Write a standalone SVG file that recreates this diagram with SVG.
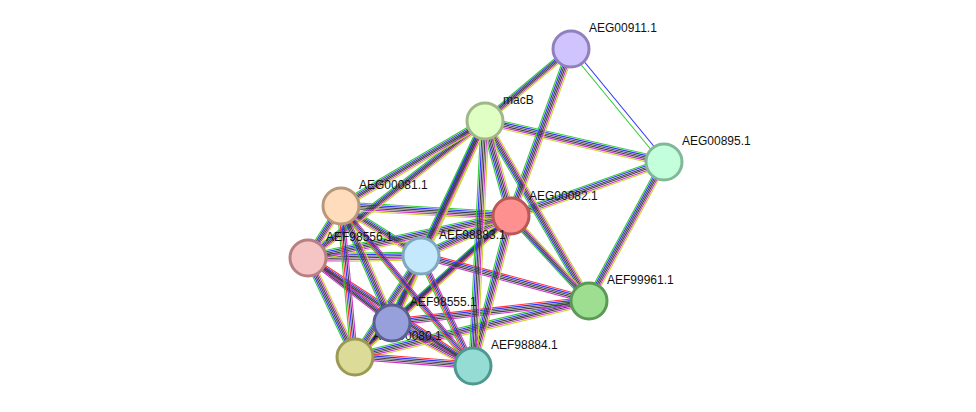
<svg xmlns="http://www.w3.org/2000/svg" xmlns:xlink="http://www.w3.org/1999/xlink" width="976" height="412" viewBox="0 0 976 412">
<style>
.g{stroke:#33cc33}.b{stroke:#3333ff}.k{stroke:#404040}.m{stroke:#cc33cc}.y{stroke:#c8d632}.r{stroke:#ff3333}
line{stroke-width:1.1;fill:none}
circle{stroke-width:3}
text{font-family:"Liberation Sans",Arial,sans-serif;font-size:12px;fill:#111}
</style>
<rect width="976" height="412" fill="#fff"/>
<defs>
<g id="HF">
<line x1="571" y1="49" x2="485" y2="121"/><line x1="485" y1="121" x2="664" y2="162"/><line x1="664" y1="162" x2="511" y2="216"/>
<line x1="511" y1="216" x2="341" y2="206"/><line x1="511" y1="216" x2="308" y2="258"/><line x1="511" y1="216" x2="421" y2="256"/>
<line x1="341" y1="206" x2="421" y2="256"/><line x1="308" y1="258" x2="421" y2="256"/><line x1="589" y1="301" x2="355" y2="357"/>
<line x1="485" y1="121" x2="341" y2="206"/><line x1="485" y1="121" x2="308" y2="258"/><line x1="511" y1="216" x2="392" y2="323"/>
<line x1="511" y1="216" x2="355" y2="357"/><line x1="392" y1="323" x2="473" y2="366"/>
</g>
<g id="HR">
<line x1="421" y1="256" x2="589" y2="301"/><line x1="589" y1="301" x2="392" y2="323"/><line x1="355" y1="357" x2="473" y2="366"/>
<line x1="308" y1="258" x2="392" y2="323"/><line x1="308" y1="258" x2="473" y2="366"/>
</g>
<g id="VF">
<line x1="571" y1="49" x2="511" y2="216"/><line x1="485" y1="121" x2="511" y2="216"/><line x1="485" y1="121" x2="421" y2="256"/>
<line x1="485" y1="121" x2="392" y2="323"/><line x1="485" y1="121" x2="473" y2="366"/><line x1="485" y1="121" x2="589" y2="301"/>
<line x1="664" y1="162" x2="589" y2="301"/><line x1="511" y1="216" x2="473" y2="366"/><line x1="511" y1="216" x2="589" y2="301"/>
<line x1="341" y1="206" x2="308" y2="258"/><line x1="308" y1="258" x2="355" y2="357"/><line x1="421" y1="256" x2="355" y2="357"/>
<line x1="421" y1="256" x2="392" y2="323"/><line x1="392" y1="323" x2="355" y2="357"/><line x1="341" y1="206" x2="392" y2="323"/>
</g>
<g id="VR">
<line x1="341" y1="206" x2="355" y2="357"/><line x1="341" y1="206" x2="473" y2="366"/><line x1="421" y1="256" x2="473" y2="366"/>
</g>
</defs>
<g id="connectors">
<use xlink:href="#HF" class="g" transform="translate(0,-4)"/>
<use xlink:href="#HF" class="b" transform="translate(0,-2.4)"/>
<use xlink:href="#HF" class="k" transform="translate(0,-0.8)"/>
<use xlink:href="#HF" class="k" transform="translate(0,0.8)"/>
<use xlink:href="#HF" class="m" transform="translate(0,2.4)"/>
<use xlink:href="#HF" class="y" transform="translate(0,4)"/>
<use xlink:href="#HR" class="r" transform="translate(0,-4)"/>
<use xlink:href="#HR" class="b" transform="translate(0,-2.4)"/>
<use xlink:href="#HR" class="k" transform="translate(0,-0.8)"/>
<use xlink:href="#HR" class="k" transform="translate(0,0.8)"/>
<use xlink:href="#HR" class="m" transform="translate(0,2.4)"/>
<use xlink:href="#VF" class="g" transform="translate(-4,0)"/>
<use xlink:href="#VF" class="b" transform="translate(-2.4,0)"/>
<use xlink:href="#VF" class="k" transform="translate(-0.8,0)"/>
<use xlink:href="#VF" class="k" transform="translate(0.8,0)"/>
<use xlink:href="#VF" class="m" transform="translate(2.4,0)"/>
<use xlink:href="#VF" class="y" transform="translate(4,0)"/>
<use xlink:href="#VR" class="g" transform="translate(-4,0)"/>
<use xlink:href="#VR" class="r" transform="translate(-2.4,0)"/>
<use xlink:href="#VR" class="b" transform="translate(-0.8,0)"/>
<use xlink:href="#VR" class="k" transform="translate(0.8,0)"/>
<use xlink:href="#VR" class="m" transform="translate(2.4,0)"/>
<line class="g" x1="569" y1="50" x2="662" y2="163"/><line class="b" x1="573" y1="48" x2="666" y2="161"/>
</g>
<g id="n-AEG00080"><circle cx="355" cy="357" r="18" fill="#dcdb98" stroke="#9a9a55"/><text x="373" y="340">AEG00080.1</text></g>
<g id="n-AEG00911"><circle cx="571" cy="49" r="18" fill="#d0c4ff" stroke="#9080c0"/><text x="589" y="32">AEG00911.1</text></g>
<g id="n-macB"><circle cx="485" cy="121" r="18" fill="#e0ffc4" stroke="#a0b888"/><text x="503" y="104">macB</text></g>
<g id="n-AEG00895"><circle cx="664" cy="162" r="18" fill="#c4ffdc" stroke="#80b898"/><text x="682" y="145">AEG00895.1</text></g>
<g id="n-AEG00081"><circle cx="341" cy="206" r="18" fill="#ffdcbc" stroke="#b8987a"/><text x="359" y="189">AEG00081.1</text></g>
<g id="n-AEG00082"><circle cx="511" cy="216" r="18" fill="#ff9090" stroke="#b85858"/><text x="529" y="200">AEG00082.1</text></g>
<g id="n-AEF98556"><circle cx="308" cy="258" r="18" fill="#f5c4c4" stroke="#b88080"/><text x="326" y="241">AEF98556.1</text></g>
<g id="n-AEF98883"><circle cx="421" cy="256" r="18" fill="#c4e8fc" stroke="#80a8c0"/><text x="439" y="239">AEF98883.1</text></g>
<g id="n-AEF99961"><circle cx="589" cy="301" r="18" fill="#9ede90" stroke="#5a9a55"/><text x="607" y="284">AEF99961.1</text></g>
<g id="n-AEF98555"><circle cx="392" cy="323" r="18" fill="#98a0dc" stroke="#5a6090"/><text x="410" y="306">AEF98555.1</text></g>
<g id="n-AEF98884"><circle cx="473" cy="366" r="18" fill="#94dcd4" stroke="#4f9890"/><text x="491" y="349">AEF98884.1</text></g>
</svg>
